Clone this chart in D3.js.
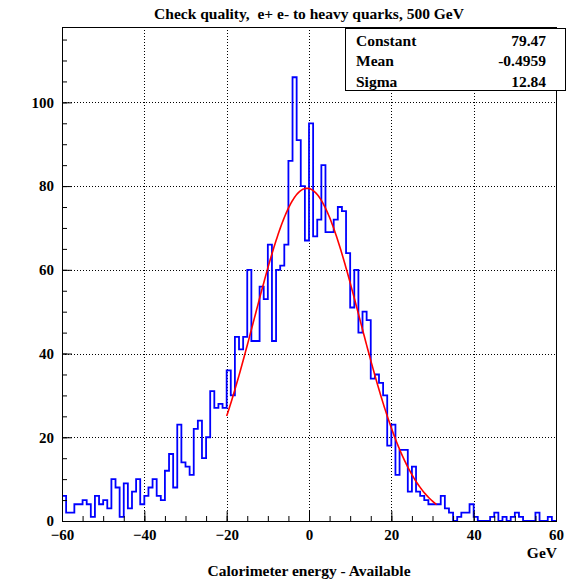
<!DOCTYPE html>
<html>
<head>
<meta charset="utf-8">
<script src="https://cdn.jsdelivr.net/npm/d3@7"></script>
<style>
  body { margin: 0; background: #fff; }
  text { font-family: "Liberation Serif", "Times New Roman", serif; font-weight: bold; }
</style>
</head>
<body>
<div id="canvas"></div>
<script>
// histogram: 120 bins of 1 GeV from -60 to 60
const xRange = [-60, 60];
const counts = [
  6, 2, 2, 4, 4, 5, 4, 1, 6, 4,        // -60 .. -51
  5, 3, 10, 8, 1, 9, 3, 7, 10, 4,      // -50 .. -41
  6, 8, 10, 6, 5, 12, 16, 8, 23, 14,   // -40 .. -31
  13, 11, 22, 24, 15, 20, 31, 27, 28, 27, // -30 .. -21
  36, 30, 44, 41, 44, 60, 43, 43, 56, 53, // -20 .. -11
  66, 43, 60, 61, 66, 86, 106, 91, 80, 67, // -10 .. -1
  95, 68, 72, 85, 69, 69, 72, 75, 74, 64, // 0 .. 9
  51, 60, 45, 50, 48, 34, 35, 33, 30, 18, // 10 .. 19
  23, 11, 17, 17, 7, 13, 7, 6, 5, 4,   // 20 .. 29
  4, 4, 6, 3, 2, 0, 1, 2, 2, 4,        // 30 .. 39
  1, 0, 0, 0, 1, 2, 0, 1, 0, 1,        // 40 .. 49
  2, 1, 0, 0, 0, 2, 0, 0, 1, 0         // 50 .. 59
];

// gaussian fit
const statNames = ["Constant", "Mean", "Sigma"];
const statValues = ["79.47", "-0.4959", "12.84"];
const fitParams = [79.47, -0.4959, 12.84];
const fitRange = [-20, 31];

const xTicks = [-60, -40, -20, 0, 20, 40, 60];
const yTicks = [0, 20, 40, 60, 80, 100];
const xGrid = [-40, -20, 0, 20, 40];
const yGrid = [20, 40, 60, 80, 100];

const width = 576, height = 581;
const svg = d3.select("#canvas").append("svg")
  .attr("width", width)
  .attr("height", height);

const frame = { left: 62, right: 556, top: 27, bottom: 521 };

const x = d3.scaleLinear().domain(xRange).range([frame.left, frame.right]);
const y = d3.scaleLinear().domain([0, 118]).range([frame.bottom, frame.top]);

// grid
const grid = svg.append("g")
  .attr("stroke", "#000")
  .attr("stroke-width", 1)
  .attr("stroke-dasharray", "1,2");
grid.selectAll(".vg").data(xGrid).enter().append("line")
  .attr("x1", d => Math.round(x(d)) + 0.5).attr("x2", d => Math.round(x(d)) + 0.5)
  .attr("y1", frame.top).attr("y2", frame.bottom);
grid.selectAll(".hg").data(yGrid).enter().append("line")
  .attr("y1", d => Math.round(y(d)) + 0.5).attr("y2", d => Math.round(y(d)) + 0.5)
  .attr("x1", frame.left).attr("x2", frame.right);

// histogram outline
const binW = (xRange[1] - xRange[0]) / counts.length;
const steps = counts.map((c, i) => [xRange[0] + i * binW, c]);
steps.push([xRange[1], counts[counts.length - 1]]);
const histLine = d3.line()
  .x(d => x(d[0]))
  .y(d => y(d[1]))
  .curve(d3.curveStepAfter);
svg.append("path")
  .attr("d", histLine(steps))
  .attr("fill", "none")
  .attr("stroke", "#0000ff")
  .attr("stroke-width", 1.8);

// fit curve
const gaus = v => fitParams[0] * Math.exp(-0.5 * Math.pow((v - fitParams[1]) / fitParams[2], 2));
const fitPts = d3.range(fitRange[0], fitRange[1] + 0.001, 0.25).map(v => [v, gaus(v)]);
svg.append("path")
  .attr("d", d3.line().x(d => x(d[0])).y(d => y(d[1]))(fitPts))
  .attr("fill", "none")
  .attr("stroke", "#ff0000")
  .attr("stroke-width", 1.6);

// frame
svg.append("rect")
  .attr("x", frame.left + 0.5).attr("y", frame.top + 0.5)
  .attr("width", frame.right - frame.left).attr("height", frame.bottom - frame.top)
  .attr("fill", "none").attr("stroke", "#000");

// axes (ticks point inward)
const xMinor = svg.append("g").attr("transform", `translate(0,${frame.bottom})`)
  .call(d3.axisBottom(x).tickValues(d3.range(-60, 61, 5)).tickSize(-5).tickFormat(""));
const xAxis = svg.append("g").attr("transform", `translate(0,${frame.bottom})`)
  .call(d3.axisBottom(x).tickValues(xTicks).tickSize(-10).tickPadding(8));
const yMinor = svg.append("g").attr("transform", `translate(${frame.left},0)`)
  .call(d3.axisLeft(y).tickValues(d3.range(0, 116, 5)).tickSize(-5).tickFormat(""));
const yAxis = svg.append("g").attr("transform", `translate(${frame.left},0)`)
  .call(d3.axisLeft(y).tickValues(yTicks).tickSize(-10).tickPadding(8));

[xMinor, xAxis, yMinor, yAxis].forEach(g => {
  g.select(".domain").remove();
  g.selectAll("line").attr("stroke", "#000");
});
[xAxis, yAxis].forEach(g => g.selectAll("text")
  .attr("font-size", 15).attr("fill", "#000")
  .attr("font-family", "Liberation Serif").attr("font-weight", "bold"));

// title and axis titles
svg.append("text")
  .attr("x", 309).attr("y", 19)
  .attr("text-anchor", "middle")
  .attr("font-size", 15.5)
  .style("white-space", "pre")
  .text("Check quality,  e+ e- to heavy quarks, 500 GeV");

svg.append("text")
  .attr("x", 557).attr("y", 558)
  .attr("text-anchor", "end")
  .attr("font-size", 15.5)
  .text("GeV");

svg.append("text")
  .attr("x", 309).attr("y", 576)
  .attr("text-anchor", "middle")
  .attr("font-size", 15.5)
  .text("Calorimeter energy - Available");

// stats box
const box = svg.append("g");
box.append("rect")
  .attr("x", 345.5).attr("y", 28.5)
  .attr("width", 220).attr("height", 62)
  .attr("fill", "#fff").attr("stroke", "#000");
statNames.forEach((name, i) => {
  box.append("text")
    .attr("x", 356).attr("y", 45.5 + i * 20.5)
    .attr("font-size", 15.5)
    .text(name);
  box.append("text")
    .attr("x", 546).attr("y", 45.5 + i * 20.5)
    .attr("text-anchor", "end")
    .attr("font-size", 15.5)
    .text(statValues[i]);
});
</script>
</body>
</html>
